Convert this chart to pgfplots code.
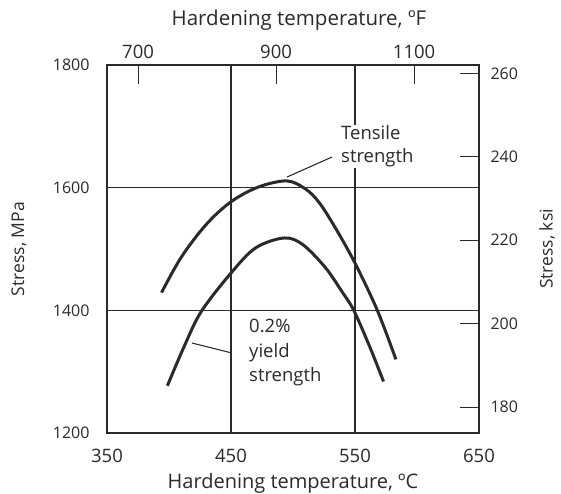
\documentclass[border=0pt]{standalone}
\usepackage{fontspec}
\setmainfont{Open Sans}
\usepackage{pgfplots}
\pgfplotsset{compat=1.18}
\definecolor{ink}{HTML}{2A2A2A}
\begin{document}
\fontsize{16}{23}\selectfont
\begin{tikzpicture}
\path[use as bounding box] (-107pt,-60pt) rectangle (454pt,433pt);
\begin{axis}[
  at={(0,0)}, anchor=south west,
  width=372pt, height=368pt, scale only axis,
  xmin=350, xmax=650, ymin=1200, ymax=1800,
  xtick={350,450,550,650}, ytick={1200,1400,1600,1800},
  grid=major, major tick length=0pt,
  axis line style={line width=1.4pt, ink},
  grid style={line width=1.1pt, ink},
  /pgf/number format/assume math mode=true,
  /pgf/number format/1000 sep={},
  tick label style={text=ink},
  xticklabel style={anchor=center, yshift=-23pt, font=\fontsize{18.5}{20}\selectfont},
  yticklabel style={anchor=east, xshift=-12pt, font=\fontsize{16}{18}\selectfont},
  xlabel={Hardening temperature, ºC},
  ylabel={Stress, MPa},
  xlabel style={at={(axis description cs:0.5,0)}, anchor=center, yshift=-50pt, text=ink, font=\fontsize{20}{23}\selectfont},
  every axis y label/.append style={at={(axis description cs:-0.2366,0.5)}, anchor=center, text=ink, font=\fontsize{17.5}{19}\selectfont},
  clip=false,
]
\addplot[line width=3pt, ink, smooth, tension=0.55] coordinates {
 (394,1429) (410,1487) (430,1540) (450,1577) (472,1601) (495,1611) (510,1598) (521,1576) (534,1535) (550,1477) (568,1400) (583,1320)
};
\addplot[line width=3pt, ink, smooth, tension=0.55] coordinates {
 (398.7,1277) (412,1340) (426,1398) (450.5,1462) (470,1502) (493,1518) (508,1507) (526,1470) (539,1432) (549,1400) (562,1340) (573,1284)
};
\draw[line width=1.1pt, ink] (axis cs:495.2,1617.4) -- (axis cs:531.5,1650);
\draw[line width=1.1pt, ink] (axis cs:418.5,1346.7) -- (axis cs:450.8,1330.4);
\node[anchor=west, align=left, fill=white, inner sep=1pt, text=ink, font=\fontsize{18.5}{23}\selectfont] at (axis cs:537.9,1667) {Tensile\\strength};
\node[anchor=west, align=left, inner sep=1pt, text=ink, font=\fontsize{18.5}{24.5}\selectfont] at (axis cs:463.7,1331) {0.2\%\\yield\\strength};
\end{axis}
\begin{axis}[
  at={(0,0)}, anchor=south west,
  width=372pt, height=368pt, scale only axis,
  xmin=655, xmax=1194, ymin=173.8, ymax=262.0,
  xtick={700,900,1100}, ytick={180,200,220,240,260},
  axis x line*=top, axis y line*=right,
  tick align=inside, major tick length=19pt,
  every tick/.style={line width=1.1pt, ink},
  axis line style={line width=1.4pt, ink, -},
  /pgf/number format/assume math mode=true,
  /pgf/number format/1000 sep={},
  tick label style={text=ink},
  xticklabel style={anchor=center, yshift=13pt, font=\fontsize{18.5}{20}\selectfont},
  yticklabel style={anchor=west, xshift=6pt, font=\fontsize{16}{18}\selectfont},
  xlabel={Hardening temperature, ºF},
  ylabel={Stress, ksi},
  xlabel style={at={(axis description cs:0.5,1)}, anchor=center, yshift=45pt, xshift=6pt, text=ink, font=\fontsize{20.5}{23}\selectfont},
  every axis y label/.append style={at={(axis description cs:1.1828,0.5)}, anchor=center, text=ink, font=\fontsize{17.5}{19}\selectfont},
]
\end{axis}
\end{tikzpicture}
\end{document}
